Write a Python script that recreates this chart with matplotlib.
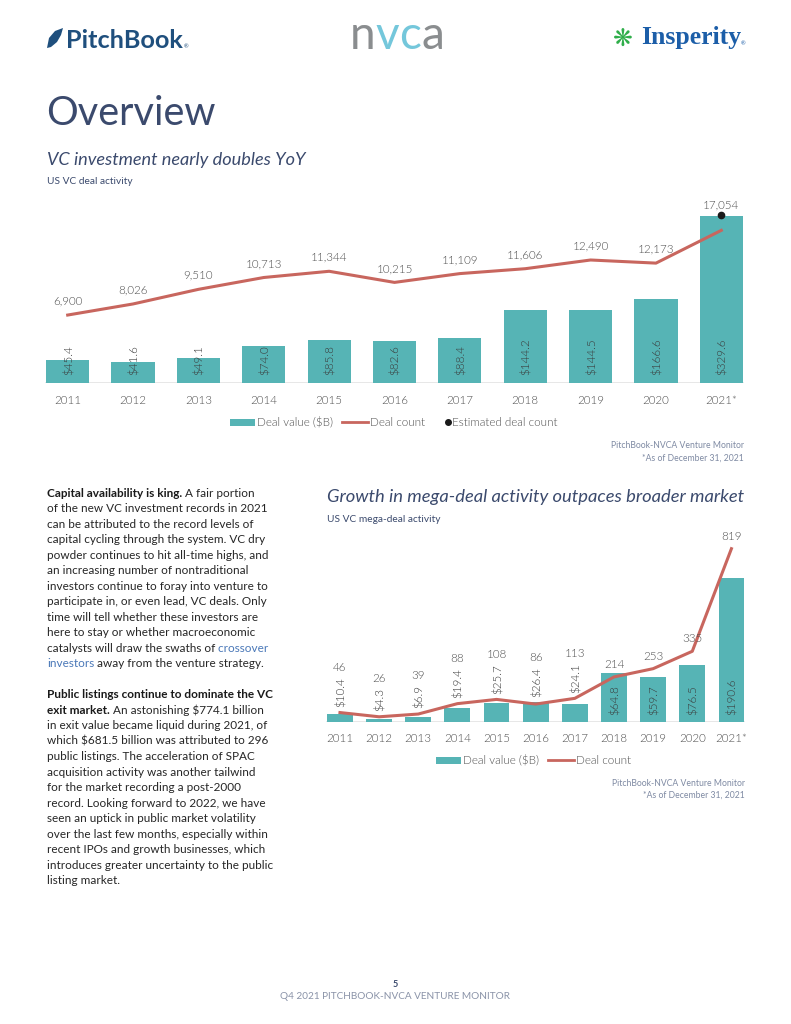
import matplotlib
matplotlib.use("Agg")
import matplotlib.pyplot as plt
from matplotlib.patches import Polygon, Rectangle
from matplotlib.lines import Line2D

plt.rcParams['font.family'] = ['Lato', 'DejaVu Sans']

# ---------------- data ----------------
years = ['2011', '2012', '2013', '2014', '2015', '2016', '2017', '2018', '2019', '2020', '2021*']
vc_deal_value = [45.4, 41.6, 49.1, 74.0, 85.8, 82.6, 88.4, 144.2, 144.5, 166.6, 329.6]
vc_deal_count = [6900, 8026, 9510, 10713, 11344, 10215, 11109, 11606, 12490, 12173, 15500]
vc_est_deal_count_2021 = 17054
mega_deal_value = [10.4, 4.3, 6.9, 19.4, 25.7, 26.4, 24.1, 64.8, 59.7, 76.5, 190.6]
mega_deal_count = [46, 26, 39, 88, 108, 86, 113, 214, 253, 335, 819]

# ---------------- style ----------------
TEAL = '#56B4B5'
RED = '#C8665E'
NAVY = '#3B4A6D'
GRAY = '#4F4F4F'
LBL = '#3A3A3A'
SRC = '#7F8AA3'
FS = 8.4
FW = 300
BARW = 0.66

W, H = 791, 1024
fig = plt.figure(figsize=(W / 100, H / 100), dpi=100)
renderer = fig.canvas.get_renderer()


def fx(px):
    return px / W


def fy(py):
    return 1 - py / H


def rect(x0, y0, x1, y1):
    return [x0 / W, 1 - y1 / H, (x1 - x0) / W, (y1 - y0) / H]


def runs_text(x_px, base_px, runs, size, va='baseline', **common):
    x = x_px
    for s, style in runs:
        kw = dict(common)
        kw.update(style)
        t = fig.text(fx(x), fy(base_px), s, va=va, ha='left',
                     fontsize=size, parse_math=False, **kw)
        x += t.get_window_extent(renderer).width
    return x


def style_axes(ax, ax2, pad):
    for a in (ax, ax2):
        for sp in a.spines.values():
            sp.set_visible(False)
        a.set_yticks([])
    ax.set_xlim(-0.5, len(years) - 0.5)
    ax.set_xticks(range(len(years)))
    ax.set_xticklabels(years, fontsize=FS, color=GRAY, fontweight=FW)
    ax.tick_params(axis='x', length=0, pad=pad)
    n = len(years)
    ax.axhline(0, xmin=(0.5 - BARW / 2) / n, xmax=(n - 0.5 + BARW / 2) / n,
               color='#E3E3E3', lw=1.2, zorder=1)


def legend(x_start, y_px, items):
    x = x_start
    for k, (kind, label) in enumerate(items):
        if kind == 'bar':
            fig.add_artist(Rectangle((fx(x), fy(y_px + 3.5)), 25 / W, 7 / H, facecolor=TEAL,
                                     edgecolor='none', transform=fig.transFigure))
            x += 27
        elif kind == 'line':
            fig.add_artist(Line2D([fx(x), fx(x + 26)], [fy(y_px), fy(y_px)], color=RED, lw=2,
                                  transform=fig.transFigure))
            x += 28
        else:
            fig.add_artist(Line2D([fx(x + 2.5)], [fy(y_px)], marker='o', ms=4, color='#1A1A1A',
                                  ls='none', transform=fig.transFigure))
            x += 7
        x = runs_text(x, y_px, [(label, dict(color=GRAY, fontweight=FW))], FS, va='center')
        x += 9 if k == 0 else 20


# ---------------- header ----------------
feather = Polygon([(fx(47), fy(48)), (fx(49), fy(38)), (fx(55), fy(31)), (fx(63), fy(28)),
                   (fx(61), fy(35)), (fx(57), fy(42)), (fx(51), fy(47))],
                  closed=True, facecolor='#1F4F7D', edgecolor='none', transform=fig.transFigure)
fig.add_artist(feather)
xe = runs_text(66, 48.3, [('PitchBook', dict(color='#1F4F7D', fontweight='bold'))], 18.2)
fig.text(fx(xe + 1), fy(48), '®', fontsize=4, color='#1F4F7D', va='baseline')

runs_text(350, 48.8, [('n', dict(color='#8A8D8F')), ('v', dict(color='#74C7DB')),
                      ('c', dict(color='#74C7DB')), ('a', dict(color='#8A8D8F'))], 33)

fig.text(fx(613), fy(46), '❋', fontsize=17, color='#2FAE4A', va='baseline',
         family=['DejaVu Sans'])
xe = runs_text(641, 44.3, [('Insperity', dict(color='#1C5EA8', fontweight='bold',
                                              family=['Liberation Serif']))], 18.5)
fig.text(fx(xe), fy(45), '®', fontsize=4, color='#1C5EA8', va='baseline')

fig.text(fx(46), fy(125), 'Overview', fontsize=28.5, color=NAVY, va='baseline')

# ---------------- chart 1 ----------------
fig.text(fx(47), fy(165), 'VC investment nearly doubles YoY', fontsize=13.1, style='italic',
         color=NAVY, va='baseline')
fig.text(fx(47), fy(184), 'US VC deal activity', fontsize=7.3, color=NAVY, va='baseline')

ax = fig.add_axes(rect(35, 195, 754, 383))
ax2 = ax.twinx()
ax.set_ylim(0, 371)
ax2.set_ylim(0, 19090)
x = list(range(len(years)))
ax.bar(x, vc_deal_value, width=BARW, color=TEAL, zorder=2)
ax2.plot(x, vc_deal_count, color=RED, lw=2.2, zorder=3)
ax2.plot([x[-1]], [vc_est_deal_count_2021], 'o', color='#1A1A1A', ms=4.5, zorder=4)
style_axes(ax, ax2, 8.5)
for i, v in enumerate(vc_deal_value):
    ax.annotate(f'${v:.1f}', xy=(i, 0), xytext=(0, 5.5), textcoords='offset points',
                rotation=90, ha='center', va='bottom', fontsize=FS, color=LBL,
                fontweight=FW, parse_math=False, zorder=5)
for i, c in enumerate(vc_deal_count[:-1]):
    ax2.annotate(f'{c:,}', xy=(i, c), xytext=(0, 6), textcoords='offset points',
                 ha='center', va='bottom', fontsize=FS, color=GRAY, fontweight=FW, zorder=5)
ax2.annotate(f'{vc_est_deal_count_2021:,}', xy=(x[-1], vc_est_deal_count_2021), xytext=(0, 3.5),
             textcoords='offset points', ha='center', va='bottom', fontsize=FS, color=GRAY,
             fontweight=FW)

legend(230, 422, [('bar', 'Deal value ($B)'), ('line', 'Deal count'), ('dot', 'Estimated deal count')])
fig.text(fx(744), fy(446), 'PitchBook-NVCA Venture Monitor', ha='right', va='center',
         fontsize=6.2, color=SRC)
fig.text(fx(744), fy(458), '*As of December 31, 2021', ha='right', va='center',
         fontsize=6.2, color=SRC)

# ---------------- chart 2 ----------------
fig.text(fx(327), fy(501.7), 'Growth in mega-deal activity outpaces broader market', fontsize=13.2,
         style='italic', color=NAVY, va='baseline')
fig.text(fx(327), fy(521.7), 'US VC mega-deal activity', fontsize=7.3, color=NAVY, va='baseline')

bx = fig.add_axes(rect(320.4, 540, 751, 722.3))
bx2 = bx.twinx()
BAR_TOP, CNT_TOP = 241.5, 860
bx.set_ylim(0, BAR_TOP)
bx2.set_ylim(0, CNT_TOP)
bx.bar(x, mega_deal_value, width=BARW, color=TEAL, zorder=2)
bx2.plot(x, mega_deal_count, color=RED, lw=2.2, zorder=3)
style_axes(bx, bx2, 8)
for i, (v, c) in enumerate(zip(mega_deal_value, mega_deal_count)):
    if v > 40:
        bx.annotate(f'${v:.1f}', xy=(i, 0), xytext=(0, 5), textcoords='offset points',
                    rotation=90, ha='center', va='bottom', fontsize=FS, color=LBL,
                    fontweight=FW, parse_math=False, zorder=5)
        bx2.annotate(f'{c}', xy=(i, c), xytext=(0, 5), textcoords='offset points',
                     ha='center', va='bottom', fontsize=FS, color=GRAY, fontweight=FW, zorder=5)
    else:
        anchor = max(v * CNT_TOP / BAR_TOP, c)
        lbl = bx2.annotate(f'${v:.1f}', xy=(i, anchor), xytext=(0, 4), textcoords='offset points',
                           rotation=90, ha='center', va='bottom', fontsize=FS, color=LBL,
                           fontweight=FW, parse_math=False, zorder=5)
        bx2.annotate(f'{c}', xy=(0.5, 1), xycoords=lbl, xytext=(0, 3), textcoords='offset points',
                     ha='center', va='bottom', fontsize=FS, color=GRAY, fontweight=FW, zorder=5)

legend(436, 760, [('bar', 'Deal value ($B)'), ('line', 'Deal count')])
fig.text(fx(745), fy(783), 'PitchBook-NVCA Venture Monitor', ha='right', va='center',
         fontsize=6.2, color=SRC)
fig.text(fx(745), fy(795), '*As of December 31, 2021', ha='right', va='center',
         fontsize=6.2, color=SRC)

# ---------------- body text ----------------
REG = dict(color='#262626')
BOLD = dict(color='#1A1A1A', fontweight='bold')
LINK = dict(color='#4A78B8')
para1 = [
    [('Capital availability is king.', BOLD), (' A fair portion', REG)],
    [('of the new VC investment records in 2021', REG)],
    [('can be attributed to the record levels of', REG)],
    [('capital cycling through the system. VC dry', REG)],
    [('powder continues to hit all-time highs, and', REG)],
    [('an increasing number of nontraditional', REG)],
    [('investors continue to foray into venture to', REG)],
    [('participate in, or even lead, VC deals. Only', REG)],
    [('time will tell whether these investors are', REG)],
    [('here to stay or whether macroeconomic', REG)],
    [('catalysts will draw the swaths of', REG), (' crossover', LINK)],
    [('investors', LINK), (' away from the venture strategy.', REG)],
]
para2 = [
    [('Public listings continue to dominate the VC', BOLD)],
    [('exit market.', BOLD), (' An astonishing $774.1 billion', REG)],
    [('in exit value became liquid during 2021, of', REG)],
    [('which $681.5 billion was attributed to 296', REG)],
    [('public listings. The acceleration of SPAC', REG)],
    [('acquisition activity was another tailwind', REG)],
    [('for the market recording a post-2000', REG)],
    [('record. Looking forward to 2022, we have', REG)],
    [('seen an uptick in public market volatility', REG)],
    [('over the last few months, especially within', REG)],
    [('recent IPOs and growth businesses, which', REG)],
    [('introduces greater uncertainty to the public', REG)],
    [('listing market.', REG)],
]
LS = 15.5
base = 496.8
for line in para1:
    runs_text(47, base, line, 8.5)
    base += LS
base += LS
for line in para2:
    runs_text(47, base, line, 8.5)
    base += LS

# ---------------- footer ----------------
fig.text(fx(395), fy(987), '5', ha='center', va='baseline', fontsize=6.5, fontweight='bold', color=NAVY)
fig.text(fx(395), fy(999), 'Q4 2021 PITCHBOOK-NVCA VENTURE MONITOR', ha='center', va='baseline',
         fontsize=7.2, color='#8A93A8')

fig.savefig('out.png', dpi=100)
